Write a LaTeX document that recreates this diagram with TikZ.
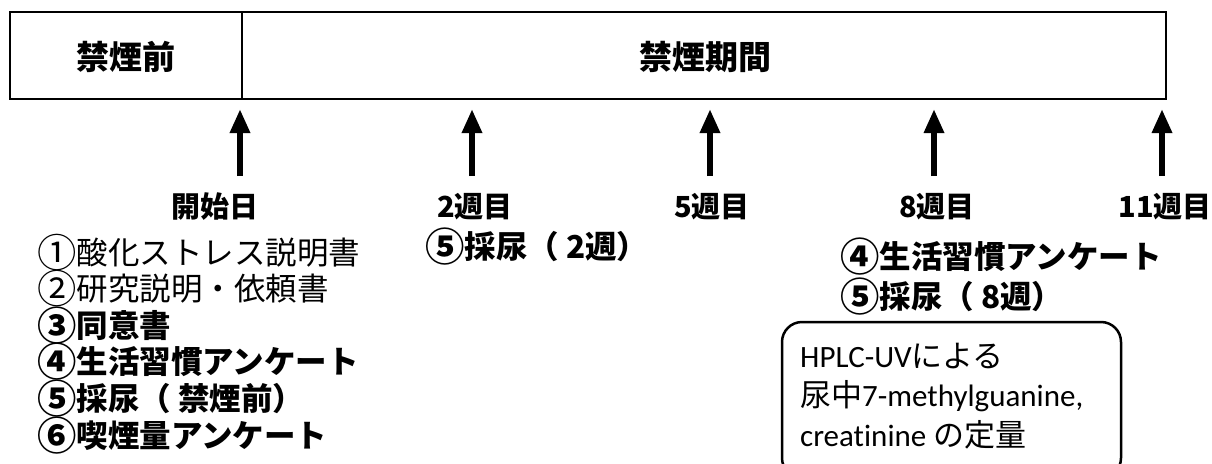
\documentclass[tikz,border=0pt]{standalone}
\usepackage{fontspec}
\setmainfont{Noto Sans CJK JP}
\newfontfamily\latinfnt[Ligatures=NoCommon]{Carlito}
\newcommand\cnum[1]{\raisebox{-0.1em}{\scalebox{1.25}{#1}}}
\usetikzlibrary{arrows.meta}
\begin{document}
\begin{tikzpicture}[x=1pt,y=-1pt,
  frame/.style={line width=2pt},
  hdr/.style={inner sep=0pt, font=\fontsize{33}{33}\selectfont\bfseries},
  wk/.style={inner sep=0pt, font=\fontsize{29}{29}\selectfont\bfseries},
  item/.style={anchor=west, inner sep=0pt, font=\fontsize{31.5}{31.5}\selectfont},
  itemb/.style={anchor=west, inner sep=0pt, font=\fontsize{31.5}{31.5}\selectfont\bfseries},
  boxtxt/.style={anchor=west, inner sep=0pt, font=\fontsize{31}{31}\selectfont},
  upar/.style={line width=6pt, -{Triangle[length=24pt,width=19pt]}},
  bracketbox/.style={line width=2.5pt, rounded corners=20pt}]
\useasboundingbox (0,0) rectangle (1212,463);
% header
\draw[frame] (10,12) rectangle (1166,99);
\draw[line width=1.2pt] (242,12) -- (242,99);
\node[hdr] (pre) at (126,57) {禁煙前};
\node[hdr] (period) at (705,57) {禁煙期間};
% arrows
\foreach \n/\x in {a0/240,a2/472,a5/710,a8/934,a11/1162}{
  \coordinate (\n b) at (\x,176);
  \coordinate (\n t) at (\x,109);
  \draw[upar] (\n b) -- (\n t);
}
\node[wk] (w0) at (215,207) {開始日};
\node[wk] (w2) at (475,207) {2週目};
\node[wk] (w5) at (712,207) {5週目};
\node[wk] (w8) at (937,207) {8週目};
\node[wk] (w11) at (1165,207) {11週目};
% start-day list
\node[item]  (l1) at (37,253) {\cnum{①}酸化ストレス説明書};
\node[item]  (l2) at (37,289) {\cnum{②}研究説明・依頼書};
\node[itemb] (l3) at (37,326) {\cnum{③}同意書};
\node[itemb] (l4) at (37,362) {\cnum{④}生活習慣アンケート};
\node[itemb] (l5) at (37,399) {\cnum{⑤}採尿（ 禁煙前）};
\node[itemb] (l6) at (37,436) {\cnum{⑥}喫煙量アンケート};
% week 2
\node[itemb] (m1) at (425,247) {\cnum{⑤}採尿（ 2週）};
% week 8
\node[itemb] (r1) at (840,257) {\cnum{④}生活習慣アンケート};
\node[itemb] (r2) at (840,297) {\cnum{⑤}採尿（ 8週）};
% analysis box
\begin{scope}
\clip (0,0) rectangle (1212,463);
\draw[bracketbox] (782,322) rectangle (1121,478);
\end{scope}
\node[boxtxt] (h1) at (800,356) {{\latinfnt HPLC-UV}による};
\node[boxtxt] (h2) at (800,396) {尿中{\latinfnt 7-methylguanine,}};
\node[boxtxt] (h3) at (800,435) {{\latinfnt creatinine} の定量};
\end{tikzpicture}
\end{document}
